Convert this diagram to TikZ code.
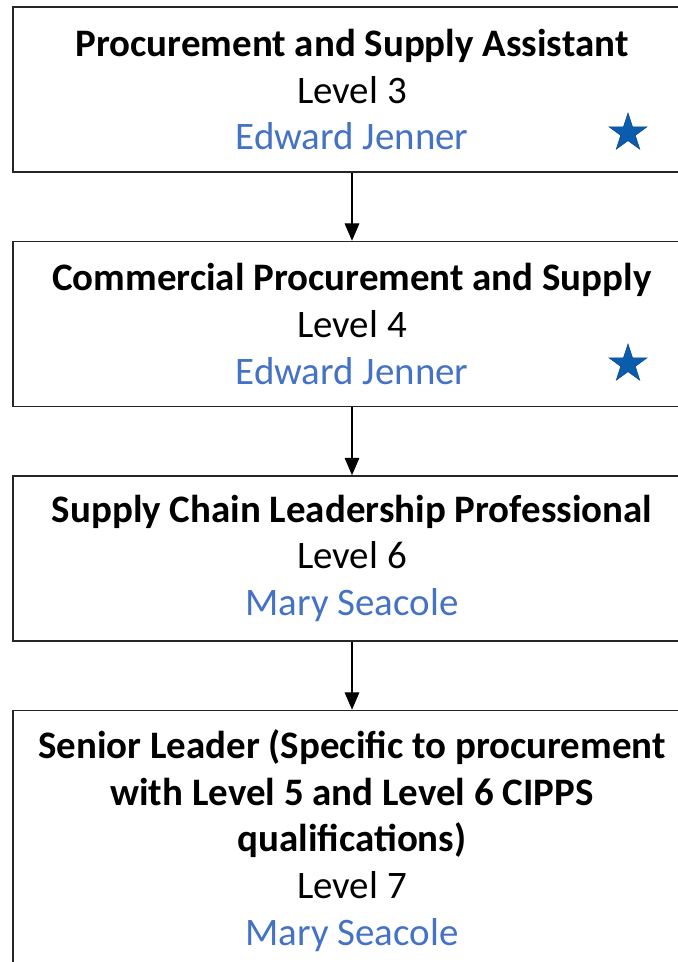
\documentclass[tikz,border=0pt]{standalone}
\usepackage{fontspec}
\setmainfont{Carlito}
\usetikzlibrary{positioning,shapes.geometric,arrows.meta}

\definecolor{nameblue}{HTML}{4472C4}
\definecolor{starblue}{HTML}{0B5CAD}

\tikzset{
	stage/.style={draw=black!85, line width=1.1pt, minimum width=508.5pt,
		minimum height=123.75pt, align=center, inner sep=0pt,
		font=\fontsize{29.2}{35}\selectfont},
	flow/.style={-{Triangle[width=11pt,length=13pt]}, line width=0.8pt},
	badge/.style={star, star points=5, star point ratio=2.6, fill=starblue,
		draw=starblue!80!black, minimum size=30pt, inner sep=0pt}
}
\newcommand{\who}[1]{\textcolor{nameblue}{#1}}

\begin{document}
\begin{tikzpicture}[x=0.75pt, y=-0.75pt, node distance=51pt]
	\useasboundingbox (0,0) rectangle (677,962);
	\node[stage] (assistant) at (352,89.5)
		{\textbf{Procurement and Supply Assistant}\\Level 3\\\who{Edward Jenner}};
	\node[stage, below=of assistant] (commercial)
		{\textbf{Commercial Procurement and Supply}\\Level 4\\\who{Edward Jenner}};
	\node[stage, below=of commercial] (leadership)
		{\textbf{Supply Chain Leadership Professional}\\Level 6\\\who{Mary Seacole}};
	\node[stage, minimum height=195pt, below=of leadership] (senior)
		{\textbf{Senior Leader (Specific to procurement}\\
		 \textbf{with Level 5 and Level 6 CIPPS}\\
		 \textbf{qualifications)}\\Level 7\\\who{Mary Seacole}};
	\node[badge] (star1) at (628,133) {};
	\node[badge] (star2) at (628,364) {};
	\draw[flow] (assistant) -- (commercial);
	\draw[flow] (commercial) -- (leadership);
	\draw[flow] (leadership) -- (senior);
\end{tikzpicture}
\end{document}
